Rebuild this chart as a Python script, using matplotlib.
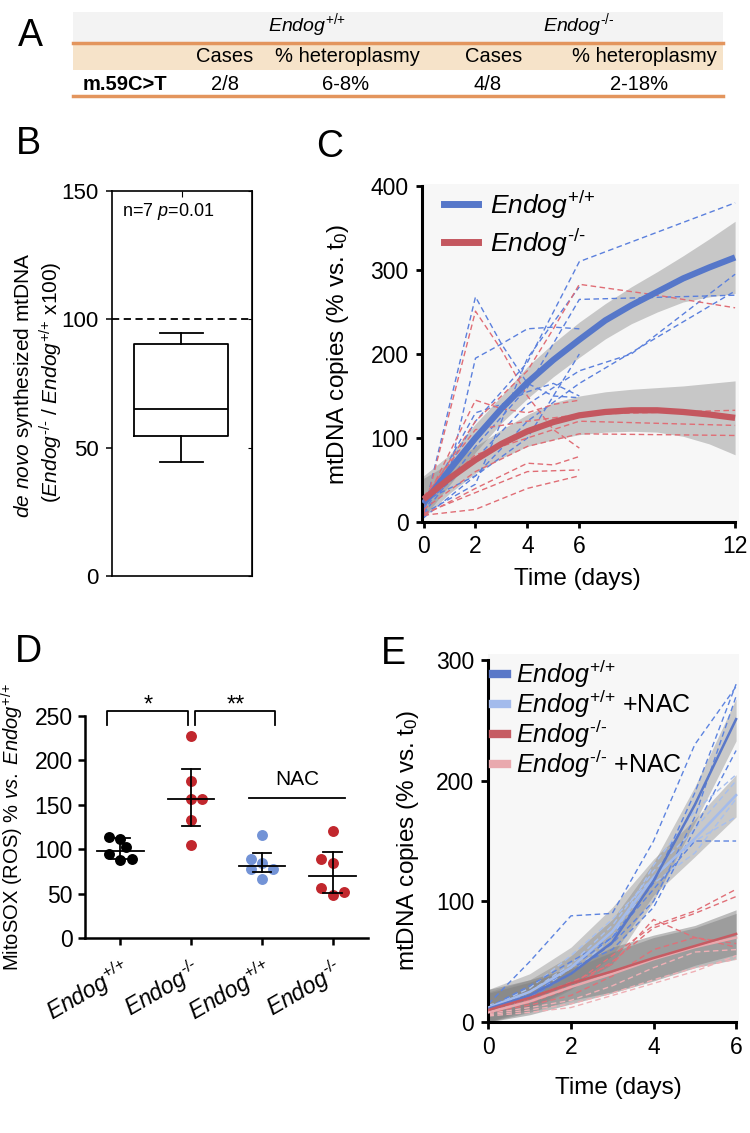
import matplotlib
matplotlib.use('Agg')
import matplotlib.pyplot as plt
from matplotlib.lines import Line2D
from matplotlib.patches import Rectangle

plt.rcParams['font.family'] = ['Liberation Sans', 'DejaVu Sans']
plt.rcParams['mathtext.fontset'] = 'custom'
plt.rcParams['mathtext.rm'] = 'Liberation Sans'
plt.rcParams['mathtext.it'] = 'Liberation Sans:italic'
plt.rcParams['mathtext.bf'] = 'Liberation Sans:bold'

WT = r'$\mathit{Endog}^{\text{+/+}}$'
KO = r'$\mathit{Endog}^{\text{-/-}}$'

# ---------------- DATA ----------------
# Panel A (table)
tbl_groups = [WT, KO]
tbl_cols = ['Cases', '% heteroplasmy', 'Cases', '% heteroplasmy']
tbl_row_label = 'm.59C>T'
tbl_values = ['2/8', '6-8%', '4/8', '2-18%']

# Panel B (box plot summary)
b_whislo, b_q1, b_med, b_q3, b_whishi = 44.5, 54.5, 65.0, 90.5, 94.5
b_ref = 100
b_ticks = [0, 50, 100, 150]

# Panel C
c_fit_t = [0, 1, 2, 3, 4, 5, 6, 7, 8, 9, 10, 11, 12]
c_wt_fit = [22, 62, 100, 135, 166, 193, 217, 240, 258, 274, 290, 303, 315]
c_wt_hi = [55, 80, 117, 150, 185, 213, 238, 260, 280, 298, 317, 337, 358]
c_wt_lo = [5, 44, 83, 118, 147, 173, 196, 218, 236, 250, 262, 268, 272]
c_ko_fit = [27, 52, 74, 93, 108, 119, 127, 131, 133, 133, 131, 128, 124]
c_ko_hi = [52, 70, 90, 110, 128, 142, 150, 155, 158, 160, 162, 165, 168]
c_ko_lo = [5, 34, 58, 76, 90, 98, 104, 107, 108, 107, 102, 93, 80]
c_wt_tr_t = [[0, 2, 3, 4, 5, 6], [0, 1, 2, 3, 4, 5, 6], [0, 2, 4, 5, 6, 12], [0, 2, 4, 6, 12],
             [0, 2, 4, 6, 8, 12], [0, 2, 4, 6, 12], [0, 2, 3, 4, 5, 6], [0, 1, 2, 4, 6], [0, 2, 4, 6]]
c_wt_tr_v = [[10, 268, 212, 165, 150, 148], [12, 60, 195, 212, 230, 232, 230], [15, 120, 190, 250, 310, 380],
             [10, 90, 160, 265, 270], [20, 75, 140, 180, 200, 295], [5, 55, 120, 165, 275],
             [18, 130, 140, 155, 165, 150], [25, 40, 55, 100, 200], [10, 45, 195, 280]]
c_ko_tr_t = [[0, 2, 3, 4, 5, 6], [0, 2, 4, 5, 6, 9, 12], [0, 2, 3, 4, 5, 6], [0, 2, 4, 6, 12],
             [0, 2, 4, 6, 12], [0, 2, 4, 6, 12], [0, 2, 4, 5, 6], [0, 2, 4, 6], [0, 2, 4, 6]]
c_ko_tr_v = [[10, 251, 205, 150, 110, 88], [25, 120, 180, 230, 283, 270, 255], [20, 145, 135, 130, 140, 145],
             [30, 110, 120, 128, 133], [15, 60, 90, 105, 103], [25, 80, 100, 120, 115],
             [8, 40, 70, 68, 78], [10, 35, 60, 62], [8, 15, 40, 55]]
c_xticks = [0, 2, 4, 6, 12]
c_yticks = [0, 100, 200, 300, 400]
c_labels = [WT, KO]

# Panel D
d_labels = [WT, KO, WT, KO]
d_vals = [[114, 112, 103, 95, 88, 89],
          [227, 177, 156, 156, 133, 104.5],
          [116, 89.5, 85, 78, 78, 67],
          [121, 89, 85, 56, 48, 52]]
d_jitter = [[-0.165, 0, 0.085, -0.165, 0, 0.165],
            [0, 0, 0, 0.16, 0, 0],
            [0, -0.16, 0, -0.16, 0.16, 0],
            [0, -0.16, 0, -0.16, 0, 0.16]]
d_center = [98, 156, 81, 70]
d_err_lo = [89.5, 126, 74, 51]
d_err_hi = [113, 190, 96, 97]
d_yticks = [0, 50, 100, 150, 200, 250]

# Panel E
e_t = [0, 1, 2, 3, 4, 5, 6]
e_wt_fit = [11, 22, 40, 66, 117, 180, 251]
e_wt_hi = [25, 35, 55, 85, 132, 195, 268]
e_wt_lo = [0, 10, 27, 48, 100, 165, 233]
e_wtn_fit = [12, 25, 45, 75, 120, 152, 188]
e_wtn_hi = [27, 40, 62, 95, 135, 168, 205]
e_wtn_lo = [0, 12, 28, 55, 105, 137, 170]
e_ko_fit = [10, 20, 32, 42, 53, 63, 73]
e_ko_hi = [27, 35, 45, 62, 72, 80, 93]
e_ko_lo = [0, 8, 18, 25, 35, 47, 56]
e_kon_fit = [8, 17, 29, 40, 52, 62, 70]
e_kon_hi = [24, 33, 44, 58, 70, 78, 90]
e_kon_lo = [0, 6, 15, 24, 34, 45, 52]
e_wt_tr = [[10, 22, 45, 70, 115, 190, 280], [12, 20, 40, 65, 100, 170, 270],
           [15, 50, 88, 90, 150, 230, 278], [10, 25, 45, 60, 95, 160, 225],
           [12, 30, 50, 70, 110, 150, 150]]
e_wtn_tr = [[10, 25, 48, 80, 125, 160, 200], [12, 28, 55, 85, 120, 150, 170],
            [14, 22, 40, 70, 130, 175, 205], [8, 20, 45, 75, 115, 140, 185]]
e_ko_tr = [[10, 18, 30, 55, 80, 92, 110], [8, 16, 28, 50, 78, 90, 104],
           [12, 20, 33, 48, 85, 70, 62], [8, 14, 22, 38, 60, 70, 65]]
e_kon_tr = [[5, 8, 12, 22, 32, 42, 55], [6, 10, 15, 24, 35, 45, 52], [7, 12, 18, 30, 45, 58, 60]]
e_xticks = [0, 2, 4, 6]
e_yticks = [0, 100, 200, 300]
e_labels = [WT, WT[:-1] + r'\ \text{+NAC}$', KO, KO[:-1] + r'\ \text{+NAC}$']

# ---------------- FIGURE ----------------
W, H = 750, 1133
fig = plt.figure(figsize=(W / 100, H / 100), dpi=100)


def rect(l, t, r, b):
    return [l / W, 1 - b / H, (r - l) / W, (b - t) / H]


ov = fig.add_axes([0, 0, 1, 1])
ov.set_xlim(0, W)
ov.set_ylim(H, 0)
ov.axis('off')

# panel letters
for lab, (x, y) in zip('ABCDE', [(30, 36), (28, 144), (330, 147), (28, 652), (393, 654)]):
    ov.text(x, y, lab, fontsize=27, ha='center', va='center')

# ---- Panel A table ----
orange = '#e3955d'
ov.add_patch(Rectangle((73, 12), 650, 30, color='#f3f3f3', lw=0))
ov.add_patch(Rectangle((73, 43), 650, 27, color='#f6e3c9', lw=0))
ov.plot([73, 723], [42.5, 42.5], color=orange, lw=2.5)
ov.plot([73, 723], [96, 96], color=orange, lw=2.5)
for g, x in zip(tbl_groups, [307, 579]):
    ov.text(x, 25, g, fontsize=14, ha='center', va='center')
for c, x in zip(tbl_cols, [225, 347, 494, 644]):
    ov.text(x, 57, c, fontsize=14.5, ha='center', va='center')
ov.text(125, 84, tbl_row_label, fontsize=14.5, fontweight='bold', ha='center', va='center')
for v, x in zip(tbl_values, [225, 346, 488, 639]):
    ov.text(x, 84, v, fontsize=14.5, ha='center', va='center')

# ---- Panel B ----
axB = fig.add_axes(rect(112, 191, 252, 576))
stats = [dict(whislo=b_whislo, q1=b_q1, med=b_med, q3=b_q3, whishi=b_whishi, label='')]
lp = dict(color='k', lw=1.3)
axB.bxp(stats, positions=[0.495], widths=[0.67], capwidths=[0.31], showfliers=False,
        boxprops=lp, medianprops=lp, whiskerprops=lp, capprops=lp)
axB.axhline(b_ref, color='k', lw=1.3, ls=(0, (4, 2.5)))
axB.set_xlim(0, 1)
axB.set_ylim(0, 150)
axB.set_yticks(b_ticks)
axB.set_xticks([0.5])
axB.tick_params(axis='x', bottom=False, top=True, direction='in', length=4, labelbottom=False)
axB.tick_params(axis='y', direction='out', length=4.5, width=1.1, labelsize=16, pad=5)
for s in axB.spines.values():
    s.set_linewidth(1.2)
secB = axB.secondary_yaxis('right')
secB.set_yticks(b_ticks)
secB.tick_params(direction='in', length=3, labelright=False)
axB.text(0.07, 0.948, r'n=7 $\mathit{p}$=0.01', transform=axB.transAxes, fontsize=13, va='center')
ov.text(24, 385, r'$\mathit{de\ novo}$ synthesized mtDNA', rotation=90, fontsize=15,
        ha='center', va='center')
ov.text(51, 382, '(' + KO + ' / ' + WT + ' x100)', rotation=90,
        fontsize=15, ha='center', va='center')

# ---- Panel C ----
blue_c, red_c = '#5677c9', '#c4575f'
blue_d, red_d = '#5b80dd', '#e06d75'
axC = fig.add_axes(rect(422, 183.5, 739, 522))
axC.set_facecolor('#f7f7f7')
axC.fill_between(c_fit_t, c_wt_lo, c_wt_hi, color='#808080', alpha=0.4, lw=0, zorder=1)
axC.fill_between(c_fit_t, c_ko_lo, c_ko_hi, color='#808080', alpha=0.4, lw=0, zorder=1)
for t, v in zip(c_wt_tr_t, c_wt_tr_v):
    axC.plot(t, v, color=blue_d, lw=1.0, ls=(0, (4, 2.5)), zorder=2)
for t, v in zip(c_ko_tr_t, c_ko_tr_v):
    axC.plot(t, v, color=red_d, lw=1.0, ls=(0, (4, 2.5)), zorder=2)
axC.plot(c_fit_t, c_wt_fit, color=blue_c, lw=4.5, zorder=3, solid_capstyle='butt')
axC.plot(c_fit_t, c_ko_fit, color=red_c, lw=4.5, zorder=3, solid_capstyle='butt')
axC.set_xlim(-0.06, 12.15)
axC.set_ylim(0, 403)
axC.set_xticks(c_xticks)
axC.set_yticks(c_yticks)
for s in ['top', 'right']:
    axC.spines[s].set_visible(False)
axC.spines['left'].set_bounds(0, 400)
axC.spines['bottom'].set_bounds(0, 12)
for s in ['left', 'bottom']:
    axC.spines[s].set_linewidth(2.2)
axC.tick_params(direction='out', length=4.5, width=2, labelsize=16.5, pad=5)
axC.set_xlabel('Time (days)', fontsize=17.5)
axC.set_ylabel(r'mtDNA copies (% vs. t$_0$)', fontsize=17.5)
axC.xaxis.set_label_coords(0.49, -0.135)
axC.yaxis.set_label_coords(-0.225, 0.495)
hC = [Line2D([], [], color=blue_c, lw=5), Line2D([], [], color=red_c, lw=5)]
axC.legend(hC, c_labels, loc='upper left', bbox_to_anchor=(0.07, 0.985), frameon=False,
           fontsize=19, handlelength=1.3, handletextpad=0.45, labelspacing=0.22,
           borderpad=0, borderaxespad=0)

# ---- Panel D ----
d_colors = ['black', '#c1272d', '#7393d6', '#c1272d']
axD = fig.add_axes(rect(85, 716, 368, 938))
for i in range(4):
    xs = [i + j for j in d_jitter[i]]
    axD.scatter(xs, d_vals[i], s=62, color=d_colors[i], lw=0, zorder=3, clip_on=False)
    axD.plot([i - 0.33, i + 0.33], [d_center[i]] * 2, color='k', lw=1.3, zorder=4)
    axD.plot([i, i], [d_err_lo[i], d_err_hi[i]], color='k', lw=1.3, zorder=4)
    for yv in (d_err_lo[i], d_err_hi[i]):
        axD.plot([i - 0.13, i + 0.13], [yv, yv], color='k', lw=1.3, zorder=4)
axD.plot([-0.19, -0.19, 0.96, 0.96], [240, 256, 256, 240], color='k', lw=1.3, clip_on=False)
axD.plot([1.06, 1.06, 2.19, 2.19], [240, 256, 256, 240], color='k', lw=1.3, clip_on=False)
axD.text(0.39, 262, '*', fontsize=17, ha='center', va='center')
axD.text(1.63, 262, '**', fontsize=17, ha='center', va='center')
axD.plot([1.82, 3.18], [158, 158], color='k', lw=1.3)
axD.text(2.5, 178, 'NAC', fontsize=15, ha='center', va='center')
axD.set_xlim(-0.5, 3.5)
axD.set_ylim(0, 250)
axD.set_yticks(d_yticks)
axD.set_xticks(range(4))
axD.set_xticklabels(d_labels, rotation=30, ha='right', va='top', rotation_mode='anchor', fontsize=17.5)
for s in ['top', 'right']:
    axD.spines[s].set_visible(False)
for s in ['left', 'bottom']:
    axD.spines[s].set_linewidth(1.8)
axD.tick_params(direction='out', length=5, width=1.8, labelsize=16.5, pad=4)
axD.tick_params(axis='x', pad=7)
ov.text(12, 827, r'MitoSOX (ROS) % $\mathit{vs.\ Endog}^{\text{+/+}}$', rotation=90, fontsize=14.5,
        ha='center', va='center')

# ---- Panel E ----
cE = dict(wt='#5a78c8', wtn='#a3bbec', ko='#c65c63', kon='#e9a9ae')
cEd = dict(wt='#5d84e0', wtn='#a6bff0', ko='#e07078', kon='#efb0b5')
axE = fig.add_axes(rect(488, 654, 739, 1022))
axE.set_facecolor('#f7f7f7')
for lo, hi, a in [(e_wt_lo, e_wt_hi, 0.38), (e_wtn_lo, e_wtn_hi, 0.38),
                  (e_ko_lo, e_ko_hi, 0.5), (e_kon_lo, e_kon_hi, 0.5)]:
    axE.fill_between(e_t, lo, hi, color='#808080', alpha=a, lw=0, zorder=1)
for key, trs in [('wtn', e_wtn_tr), ('kon', e_kon_tr), ('wt', e_wt_tr), ('ko', e_ko_tr)]:
    for v in trs:
        axE.plot(e_t, v, color=cEd[key], lw=1.0, ls=(0, (4, 2.5)), zorder=2)
for key, v in [('wtn', e_wtn_fit), ('kon', e_kon_fit), ('wt', e_wt_fit), ('ko', e_ko_fit)]:
    axE.plot(e_t, v, color=cE[key], lw=1.8, zorder=3)
axE.set_xlim(-0.01, 6.07)
axE.set_ylim(0, 305)
axE.set_xticks(e_xticks)
axE.set_yticks(e_yticks)
for s in ['top', 'right']:
    axE.spines[s].set_visible(False)
axE.spines['left'].set_bounds(0, 300)
axE.spines['bottom'].set_bounds(0, 6)
for s in ['left', 'bottom']:
    axE.spines[s].set_linewidth(2.2)
axE.tick_params(direction='out', length=5, width=2, labelsize=16.5, pad=5)
axE.set_xlabel('Time (days)', fontsize=17.5)
axE.set_ylabel(r'mtDNA copies (% vs. t$_0$)', fontsize=17.5)
axE.xaxis.set_label_coords(0.518, -0.15)
axE.yaxis.set_label_coords(-0.268, 0.495)
hE = [Line2D([], [], color=cE[k], lw=6) for k in ['wt', 'wtn', 'ko', 'kon']]
axE.legend(hE, e_labels, loc='upper left', bbox_to_anchor=(0.02, 0.99), frameon=False,
           fontsize=18, handlelength=0.55, handletextpad=0.35, labelspacing=-0.08,
           borderpad=0, borderaxespad=0)

fig.savefig('out.png', dpi=100)
